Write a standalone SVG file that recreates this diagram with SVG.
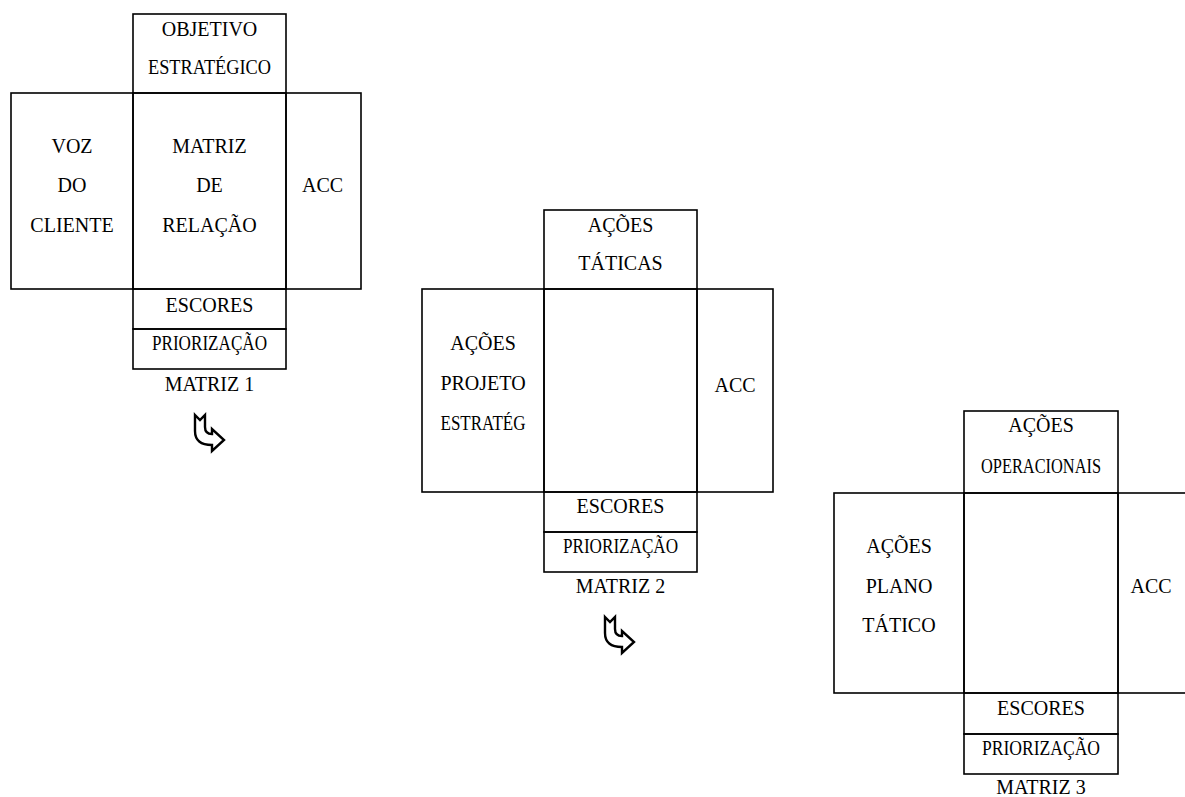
<svg xmlns="http://www.w3.org/2000/svg" width="1185" height="797" viewBox="0 0 1185 797">
<style>
rect{fill:none;stroke:#000;stroke-width:1.6}
text{font-family:"Times New Roman","Liberation Serif",Times,"DejaVu Serif",serif;font-size:20px;fill:#000;text-anchor:middle}
.arr{fill:#fff;stroke:#000;stroke-width:2.4;stroke-linejoin:miter}
</style>
<defs>
<path id="bent" class="arr" d="M0,0 L5,5 L10,0 L10,12 Q10,19 17,19 L17,14 L29,25 L17,36 L17,30 Q0,30 0,16 Z"/>
</defs>
<rect x="0" y="0" width="1185" height="797" style="fill:#fff;stroke:none"/>
<!-- MATRIZ 1 -->
<g id="m1-top"><rect x="133" y="14" width="153" height="79"/><text x="209.5" y="36">OBJETIVO</text><text x="209.5" y="74" textLength="123" lengthAdjust="spacingAndGlyphs">ESTRATÉGICO</text></g>
<g id="m1-left"><rect x="11" y="93" width="122" height="196"/><text x="72" y="153">VOZ</text><text x="72" y="192">DO</text><text x="72" y="232">CLIENTE</text></g>
<g id="m1-center"><rect x="133" y="93" width="153" height="196"/><text x="209.5" y="153">MATRIZ</text><text x="209.5" y="192">DE</text><text x="209.5" y="232">RELAÇÃO</text></g>
<g id="m1-right"><rect x="286" y="93" width="75" height="196"/><text x="322.5" y="192">ACC</text></g>
<g id="m1-escores"><rect x="133" y="289" width="153" height="40"/><text x="209.5" y="312">ESCORES</text></g>
<g id="m1-prior"><rect x="133" y="329" width="153" height="40"/><text x="209.5" y="350" textLength="115" lengthAdjust="spacingAndGlyphs">PRIORIZAÇÃO</text></g>
<g id="m1-label"><text x="209.5" y="391">MATRIZ 1</text></g>

<!-- MATRIZ 2 -->
<g id="m2-top"><rect x="544" y="210" width="153" height="79"/><text x="620.5" y="232">AÇÕES</text><text x="620.5" y="270">TÁTICAS</text></g>
<g id="m2-left"><rect x="422" y="289" width="122" height="203"/><text x="483" y="350">AÇÕES</text><text x="483" y="390">PROJETO</text><text x="483" y="430" textLength="85" lengthAdjust="spacingAndGlyphs">ESTRATÉG</text></g>
<g id="m2-center"><rect x="544" y="289" width="153" height="203"/></g>
<g id="m2-right"><rect x="697" y="289" width="76" height="203"/><text x="735" y="392">ACC</text></g>
<g id="m2-escores"><rect x="544" y="492" width="153" height="40"/><text x="620.5" y="513">ESCORES</text></g>
<g id="m2-prior"><rect x="544" y="532" width="153" height="40"/><text x="620.5" y="553" textLength="115" lengthAdjust="spacingAndGlyphs">PRIORIZAÇÃO</text></g>
<g id="m2-label"><text x="620.5" y="593">MATRIZ 2</text></g>

<!-- MATRIZ 3 -->
<g id="m3-top"><rect x="964" y="411" width="154" height="82"/><text x="1041" y="432">AÇÕES</text><text x="1041" y="473" textLength="120" lengthAdjust="spacingAndGlyphs">OPERACIONAIS</text></g>
<g id="m3-left"><rect x="834" y="493" width="130" height="200"/><text x="899" y="553">AÇÕES</text><text x="899" y="593">PLANO</text><text x="899" y="632">TÁTICO</text></g>
<g id="m3-center"><rect x="964" y="493" width="154" height="200"/></g>
<g id="m3-right"><rect x="1118" y="493" width="80" height="200"/><text x="1151" y="593">ACC</text></g>
<g id="m3-escores"><rect x="964" y="693" width="154" height="41"/><text x="1041" y="715">ESCORES</text></g>
<g id="m3-prior"><rect x="964" y="734" width="154" height="40"/><text x="1041" y="755" textLength="118" lengthAdjust="spacingAndGlyphs">PRIORIZAÇÃO</text></g>
<g id="m3-label"><text x="1041" y="794">MATRIZ 3</text></g>

<g id="connectors">
<use href="#bent" x="195" y="415"/>
<use href="#bent" x="605" y="617"/>
</g>
</svg>
